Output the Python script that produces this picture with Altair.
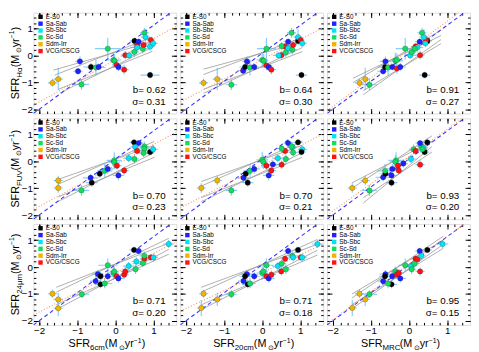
import altair as alt
import pandas as pd

# ---------------- categories / styling ----------------
TYPE_CODES = ["E", "Sa", "Sb", "Sc", "Sd", "V"]
TYPE_LABELS = ["E-S0", "Sa-Sab", "Sb-Sbc", "Sc-Sd", "Sdm-Irr", "VCG/CSCG"]
TYPE_COLORS = ["#000000", "#1f1fff", "#00e5f5", "#12dd5e", "#f2b400", "#ff1212"]

ROW_SUBS = ["Hα", "FUV", "24μm"]
COL_SUBS = ["6cm", "20cm", "MRC"]

B_VALUES = [[0.62, 0.64, 0.91], [0.70, 0.70, 0.93], [0.71, 0.71, 0.95]]
SIGMA_VALUES = [[0.31, 0.30, 0.27], [0.23, 0.21, 0.20], [0.20, 0.18, 0.15]]

MAJOR_TICKS = [-2, -1, 0, 1]
MINOR_TICKS = [-2.0, -1.8, -1.6, -1.4, -1.2, -1.0, -0.8, -0.6, -0.4, -0.2,
               0.0, 0.2, 0.4, 0.6, 0.8, 1.0, 1.2, 1.4]

# ---------------- data: (type, x, y, x_err, y_err) ----------------
HA_6CM = [
    ("Sd", -1.65, -1.01, .12, .15), ("Sd", -1.50, -0.87, .12, .42), ("Sc", -0.89, -1.07, .20, .20),
    ("Sa", -0.98, -0.58, .12, .12), ("Sa", -0.93, -0.21, .12, .18), ("E", -0.64, -0.42, .20, .15),
    ("Sc", -0.51, -0.44, .25, .30), ("Sa", -0.44, -0.42, .12, .12), ("Sc", -0.20, 0.26, .34, .40),
    ("Sc", -0.05, -0.16, .20, .30), ("Sc", -0.02, -0.19, .12, .25), ("V", 0.03, -0.34, .12, .18),
    ("Sa", 0.08, -0.42, .12, .15), ("V", 0.23, -0.52, .12, .18), ("V", 0.26, 0.02, .12, .15),
    ("Sb", 0.36, 0.01, .15, .12), ("Sc", 0.50, 0.14, .12, .18), ("E", 0.50, 0.55, .12, .12),
    ("V", 0.57, 0.40, .12, .12), ("Sb", 0.57, 0.31, .18, .18), ("Sa", 0.61, 0.52, .12, .12),
    ("Sc", 0.72, 0.26, .12, .18), ("V", 0.74, 0.40, .10, .12), ("Sc", 0.76, 0.85, .12, .18),
    ("Sb", 0.79, 0.69, .12, .30), ("Sb", 0.91, 0.34, .12, .15), ("V", 0.93, 0.58, .10, .12),
    ("Sb", 0.99, 0.46, .12, .15), ("E", 0.91, -0.72, .25, .12),
]
HA_20CM = [
    ("Sd", -1.54, -1.01, .12, .15), ("Sd", -1.18, -0.87, .12, .42), ("Sc", -0.81, -1.08, .15, .20),
    ("Sa", -0.50, -0.56, .12, .12), ("Sa", -0.40, -0.21, .12, .18), ("E", -0.45, -0.42, .15, .15),
    ("Sc", -0.32, -0.44, .18, .30), ("Sa", -0.21, -0.42, .12, .12), ("Sc", 0.11, 0.26, .25, .40),
    ("Sc", 0.00, -0.16, .15, .30), ("Sc", 0.04, -0.19, .12, .25), ("V", 0.11, -0.36, .12, .18),
    ("Sa", 0.17, -0.42, .12, .15), ("V", 0.24, -0.52, .12, .18), ("V", 0.50, 0.02, .12, .15),
    ("Sb", 0.43, 0.01, .15, .12), ("Sc", 0.62, 0.13, .12, .18), ("E", 0.94, 0.55, .12, .12),
    ("V", 0.60, 0.34, .12, .12), ("Sb", 0.68, 0.28, .15, .18), ("Sa", 0.68, 0.52, .12, .12),
    ("Sc", 0.79, 0.22, .12, .18), ("V", 0.81, 0.40, .10, .12), ("Sc", 0.77, 0.85, .12, .18),
    ("Sb", 0.94, 0.69, .12, .30), ("Sc", 0.51, 0.36, .12, .15), ("V", 1.01, 0.58, .10, .12),
    ("Sb", 1.05, 0.46, .12, .15), ("E", 1.03, -0.72, .15, .12),
]
HA_MRC = [
    ("Sd", -1.30, -1.01, .12, .15), ("Sd", -1.15, -0.87, .12, .42), ("Sc", -1.04, -1.08, .20, .20),
    ("Sa", -0.68, -0.58, .15, .12), ("Sa", -0.62, -0.21, .15, .18), ("E", -0.63, -0.42, .20, .15),
    ("Sc", -0.55, -0.44, .20, .30), ("Sa", -0.44, -0.42, .15, .12), ("Sc", -0.10, 0.26, .25, .40),
    ("Sc", -0.36, -0.19, .20, .30), ("Sc", -0.32, -0.16, .15, .25), ("V", -0.32, -0.48, .12, .18),
    ("Sa", -0.23, -0.42, .15, .15), ("V", 0.29, 0.02, .12, .15), ("Sb", 0.03, 0.01, .15, .12),
    ("Sc", 0.07, 0.13, .12, .18), ("E", 0.48, 0.55, .12, .12), ("V", 0.17, 0.34, .12, .12),
    ("Sb", 0.22, 0.31, .15, .18), ("Sa", 0.28, 0.52, .12, .12), ("Sc", 0.15, 0.26, .12, .18),
    ("V", 0.45, 0.58, .10, .12), ("Sc", 0.34, 0.85, .12, .18), ("Sb", 0.39, 0.69, .12, .30),
    ("Sb", 0.43, 0.46, .12, .15), ("E", 0.41, -0.72, .15, .12),
]
FUV_6CM = [
    ("Sd", -1.50, -0.71, .12, .18), ("Sd", -1.50, -0.99, .12, .18), ("Sc", -0.89, -1.08, .20, .20),
    ("E", -0.62, -0.79, .15, .15), ("Sa", -0.65, -0.61, .20, .15), ("E", -0.41, -0.46, .15, .15),
    ("Sc", -0.28, -0.35, .20, .25), ("Sa", -0.20, -0.28, .15, .18), ("Sc", -0.03, 0.04, .20, .30),
    ("Sc", -0.03, -0.03, .15, .25), ("V", 0.04, -0.16, .12, .15), ("Sa", 0.08, -0.52, .15, .18),
    ("V", 0.23, -0.34, .12, .15), ("Sb", 0.35, 0.12, .15, .15), ("Sc", 0.50, 0.09, .12, .18),
    ("E", 0.49, 0.71, .12, .12), ("Sa", 0.61, 0.68, .12, .12), ("Sb", 0.52, 0.54, .12, .18),
    ("V", 0.57, 0.39, .12, .12), ("Sc", 0.76, 0.56, .12, .18), ("Sc", 0.76, 0.47, .12, .18),
    ("Sc", 0.74, 0.31, .12, .15), ("E", 0.91, 0.35, .12, .12), ("Sb", 0.99, 0.45, .12, .15),
]
FUV_20CM = [
    ("Sd", -1.60, -0.99, .12, .18), ("Sd", -1.18, -0.71, .12, .18), ("Sc", -0.81, -1.08, .15, .20),
    ("E", -0.38, -0.79, .15, .15), ("Sa", -0.49, -0.61, .15, .15), ("E", -0.43, -0.46, .15, .15),
    ("Sc", -0.32, -0.35, .18, .25), ("Sa", -0.21, -0.28, .15, .18), ("Sc", 0.00, 0.06, .15, .30),
    ("Sc", 0.03, -0.02, .12, .25), ("V", 0.11, -0.16, .12, .15), ("Sa", 0.17, -0.52, .15, .18),
    ("V", 0.24, -0.34, .12, .15), ("Sa", 0.28, -0.11, .12, .15), ("Sb", 0.41, 0.12, .15, .15),
    ("V", 0.51, -0.12, .12, .15), ("Sc", 0.62, 0.09, .12, .18), ("V", 0.60, 0.39, .12, .12),
    ("Sc", 0.51, 0.48, .12, .18), ("Sa", 0.68, 0.68, .12, .12), ("E", 0.94, 0.71, .12, .12),
    ("Sb", 0.79, 0.53, .12, .18), ("Sc", 0.77, 0.56, .12, .18), ("Sc", 0.81, 0.33, .12, .15),
    ("Sb", 1.05, 0.45, .12, .15), ("E", 1.03, 0.35, .12, .12),
]
FUV_MRC = [
    ("Sd", -1.49, -0.99, .12, .18), ("Sd", -1.15, -0.71, .12, .18), ("Sc", -1.04, -1.08, .20, .20),
    ("E", -0.46, -0.79, .15, .15), ("Sa", -0.68, -0.59, .20, .15), ("E", -0.62, -0.46, .15, .15),
    ("Sc", -0.63, -0.35, .20, .25), ("Sa", -0.44, -0.28, .15, .18), ("Sc", -0.34, 0.04, .20, .30),
    ("Sc", -0.36, -0.02, .15, .25), ("V", -0.29, -0.16, .12, .15), ("V", -0.27, -0.34, .12, .15),
    ("Sa", -0.46, -0.52, .15, .18), ("Sa", -0.15, -0.08, .12, .15), ("Sb", 0.05, 0.09, .15, .15),
    ("Sc", 0.12, 0.45, .12, .18), ("V", 0.17, 0.39, .12, .12), ("Sc", 0.32, 0.56, .12, .18),
    ("Sa", 0.29, 0.68, .12, .12), ("E", 0.48, 0.71, .12, .12), ("E", 0.41, 0.35, .12, .12),
    ("V", 0.29, -0.12, .12, .15), ("Sb", 0.38, 0.50, .12, .15), ("Sc", 0.35, 0.45, .12, .15),
]
IR_6CM = [
    ("Sd", -1.65, -0.99, .12, .15), ("Sd", -1.50, -1.20, .12, .25), ("Sd", -1.50, -1.53, .12, .30),
    ("Sc", -0.88, -1.01, .20, .15), ("Sa", -0.52, -0.52, .15, .15), ("Sa", -0.46, -0.26, .15, .15),
    ("E", -0.39, -0.34, .15, .15), ("E", -0.39, -0.64, .15, .15), ("Sa", -0.20, -0.34, .15, .15),
    ("Sc", -0.28, -0.61, .20, .18), ("Sc", -0.20, 0.07, .25, .25), ("Sc", -0.05, -0.22, .15, .25),
    ("Sc", -0.03, -0.16, .12, .18), ("V", 0.03, -0.34, .12, .15), ("Sa", 0.08, -0.42, .15, .15),
    ("V", 0.23, -0.28, .12, .15), ("V", 0.26, -0.16, .12, .15), ("Sb", 0.35, 0.04, .15, .15),
    ("Sc", 0.53, -0.08, .12, .18), ("E", 0.49, 0.64, .12, .12), ("Sa", 0.61, 0.60, .12, .12),
    ("Sb", 0.55, 0.21, .12, .15), ("V", 0.76, 0.31, .12, .12), ("Sc", 0.76, 0.42, .12, .15),
    ("V", 0.93, 0.36, .12, .12), ("Sb", 1.00, 0.36, .12, .15), ("Sb", 1.40, 0.86, .15, .15),
    ("Sc", 0.72, 0.15, .12, .15),
]
IR_20CM = [
    ("Sd", -1.60, -1.52, .12, .30), ("Sd", -1.54, -0.99, .12, .15), ("Sd", -1.18, -1.20, .12, .25),
    ("Sc", -0.81, -1.01, .15, .15), ("Sa", -0.49, -0.52, .15, .15), ("Sa", -0.40, -0.26, .15, .15),
    ("E", -0.38, -0.64, .15, .15), ("E", -0.45, -0.34, .15, .15), ("Sc", -0.32, -0.61, .15, .18),
    ("Sa", -0.21, -0.34, .15, .15), ("Sc", 0.00, -0.22, .15, .25), ("Sc", 0.03, -0.16, .12, .18),
    ("Sc", 0.11, 0.07, .18, .25), ("V", 0.11, -0.34, .12, .15), ("Sa", 0.17, -0.42, .15, .15),
    ("V", 0.24, -0.28, .12, .15), ("V", 0.50, -0.16, .12, .15), ("Sb", 0.41, 0.04, .15, .15),
    ("Sc", 0.62, -0.08, .12, .18), ("V", 0.60, 0.31, .12, .12), ("Sc", 0.51, 0.13, .12, .15),
    ("Sa", 0.68, 0.60, .12, .12), ("E", 0.94, 0.64, .12, .12), ("Sc", 0.79, 0.42, .12, .15),
    ("Sb", 0.81, 0.36, .12, .15), ("V", 1.01, 0.36, .12, .12), ("Sb", 1.05, 0.36, .12, .15),
    ("Sb", 1.45, 0.86, .15, .15),
]
IR_MRC = [
    ("Sd", -1.49, -1.52, .12, .30), ("Sd", -1.30, -0.99, .12, .15), ("Sd", -1.15, -1.20, .12, .25),
    ("Sc", -1.04, -1.01, .20, .15), ("Sa", -0.68, -0.52, .15, .15), ("Sa", -0.62, -0.26, .15, .15),
    ("E", -0.63, -0.34, .15, .15), ("E", -0.46, -0.64, .15, .15), ("Sc", -0.36, -0.16, .15, .18),
    ("Sc", -0.32, -0.22, .15, .18), ("Sc", -0.55, -0.61, .15, .18), ("Sa", -0.44, -0.34, .15, .15),
    ("V", -0.32, -0.28, .12, .15), ("V", -0.27, -0.22, .12, .15), ("Sa", -0.23, -0.42, .15, .15),
    ("Sc", -0.10, 0.07, .18, .25), ("Sb", 0.05, 0.04, .15, .15), ("Sc", 0.07, -0.08, .12, .18),
    ("V", 0.17, 0.31, .12, .12), ("V", 0.29, -0.16, .12, .15), ("Sa", 0.28, 0.60, .12, .12),
    ("E", 0.48, 0.64, .12, .12), ("Sc", 0.14, 0.13, .12, .15), ("V", 0.22, 0.29, .12, .12),
    ("Sb", 0.32, 0.42, .12, .15), ("Sb", 0.88, 0.86, .15, .15),
]

# grey envelope lines (x1, y1, x2, y2) per panel
GREY_HA = [
    [(-1.63, -0.54, 0.97, 0.52), (-1.59, -0.72, 0.97, 0.69), (-1.50, -1.25, 0.97, 0.16), (-1.46, -1.39, 0.97, 0.31)],
    [(-1.54, -0.50, 1.05, 0.50), (-1.54, -0.70, 1.05, 0.68), (-1.54, -1.25, 1.05, 0.15), (-1.54, -1.40, 1.05, 0.30)],
    [(-1.47, -0.84, 0.84, 0.75), (-1.47, -1.00, 0.84, 0.95), (-1.20, -1.30, 0.84, 0.45), (-1.20, -1.45, 0.84, 0.60)],
]
GREY_FUV = [
    [(-1.50, -0.67, 1.02, 0.59), (-1.50, -0.85, 1.02, 0.74), (-1.50, -1.32, 1.02, 0.15), (-1.50, -1.49, 1.02, 0.33)],
    [(-1.60, -0.75, 1.05, 0.60), (-1.60, -0.92, 1.05, 0.75), (-1.60, -1.35, 1.05, 0.15), (-1.60, -1.50, 1.05, 0.32)],
    [(-1.50, -0.80, 0.60, 0.75), (-1.50, -1.00, 0.60, 0.95), (-1.20, -1.35, 0.60, 0.35), (-1.20, -1.55, 0.60, 0.55)],
]
GREY_IR = [
    [(-1.55, -0.75, 1.40, 0.89), (-1.55, -0.93, 1.40, 1.07), (-1.55, -1.40, 1.40, 0.48), (-1.55, -1.58, 1.40, 0.66)],
    [(-1.60, -0.75, 1.45, 0.85), (-1.60, -0.93, 1.45, 1.03), (-1.60, -1.40, 1.45, 0.45), (-1.60, -1.58, 1.45, 0.63)],
    [(-1.50, -1.00, 0.90, 1.00), (-1.50, -1.15, 0.90, 1.15), (-1.50, -1.40, 0.90, 0.70), (-1.50, -1.55, 0.90, 0.85)],
]
# dotted fit line and dashed one-to-one line (x1, y1, x2, y2) per panel
ORANGE_LINES = [
    [(-2.15, -1.84, 1.6, 1.10), (-2.15, -1.72, 1.6, 1.05), (-2.15, -2.05, 1.3, 1.60)],
    [(-2.15, -1.79, 1.6, 1.09), (-2.15, -1.73, 1.6, 1.03), (-2.15, -2.00, 1.4, 1.60)],
    [(-2.15, -1.78, 1.6, 0.95), (-2.15, -1.64, 1.6, 0.86), (-2.15, -2.10, 1.45, 1.60)],
]
BLUE_LINE = (-2.15, -2.15, 1.45, 1.6)

PANELS = [[HA_6CM, HA_20CM, HA_MRC], [FUV_6CM, FUV_20CM, FUV_MRC], [IR_6CM, IR_20CM, IR_MRC]]
GREYS = [GREY_HA, GREY_FUV, GREY_IR]

# ---------------- layout ----------------
W, H = 146, 103
DOMAIN = [-2.15, 1.6]
FONT = "Liberation Sans"
ERR_COLOR = "#87cefa"
ONE = pd.DataFrame({"k": [0]})

CHAR_W = {"S": .667, "F": .611, "R": .722, "H": .722, "α": .60, "U": .722, "V": .667,
          "2": .556, "4": .556, "μ": .58, "m": .833, "6": .556, "c": .5, "M": .74,
          "C": .722, " ": .278, "(": .333, ")": .333, "y": .5, "r": .333, "−": .584,
          "1": .556, "⊙": .80, "0": .556}


def title_pieces(sub):
    # (text, fontsize, perpendicular shift: + = down/sub, - = up/sup)
    parts = [("SFR", 11, 0), (sub, 8, 3), (" (M", 11, 0), ("⊙", 7, 2.5),
             ("yr", 11, 0), ("−1", 7, -4.5), (")", 11, 0)]
    out, along = [], 0.0
    for txt, fs, perp in parts:
        out.append((txt, fs, perp, along))
        along += sum(CHAR_W.get(ch, .56) for ch in txt) * fs
    return out, along


def ax(orient, values, size, labels=False):
    kw = dict(orient=orient, values=values, tickSize=size, offset=-size, domain=False,
              grid=False, labels=labels, title=None, ticks=True, tickColor="black",
              tickWidth=1)
    if labels:
        kw.update(labelFontSize=10, labelPadding=1, labelColor="black", labelFont=FONT,
                  format=".0f", labelFlush=False, labelOverlap=False)
    return alt.Axis(**kw)


def seg_df(rows):
    return pd.DataFrame(rows, columns=["x1", "y1", "x2", "y2"])


def panel(r, c):
    code2label = dict(zip(TYPE_CODES, TYPE_LABELS))
    pts = pd.DataFrame(PANELS[r][c], columns=["t", "x", "y", "ex", "ey"])
    pts["type"] = pts["t"].map(code2label)
    pts["x1"] = pts["x"] - pts["ex"]
    pts["x2"] = pts["x"] + pts["ex"]
    pts["y1"] = pts["y"] - pts["ey"]
    pts["y2"] = pts["y"] + pts["ey"]

    xs = alt.Scale(domain=DOMAIN, nice=False, zero=False)
    ys = alt.Scale(domain=DOMAIN, nice=False, zero=False)
    base = alt.Chart(pts)

    errx = base.mark_rule(color=ERR_COLOR, strokeWidth=1.2, clip=True).encode(
        x=alt.X("x1:Q", scale=xs, axis=ax("bottom", MAJOR_TICKS, 5, r == 2)),
        x2="x2:Q",
        y=alt.Y("y:Q", scale=ys, axis=ax("left", MAJOR_TICKS, 5, c == 0)),
    )
    erry = base.mark_rule(color=ERR_COLOR, strokeWidth=1.2, clip=True).encode(
        x=alt.X("x:Q", scale=xs, axis=ax("top", MAJOR_TICKS, 5)),
        y=alt.Y("y1:Q", scale=ys, axis=ax("right", MAJOR_TICKS, 5)),
        y2="y2:Q",
    )
    grey = alt.Chart(seg_df(GREYS[r][c])).mark_rule(color="#9a9a9a", strokeWidth=0.8, clip=True).encode(
        x=alt.X("x1:Q", scale=xs, axis=ax("bottom", MINOR_TICKS, 2.5)), x2="x2:Q",
        y=alt.Y("y1:Q", scale=ys, axis=ax("left", MINOR_TICKS, 2.5)), y2="y2:Q",
    )
    blue = alt.Chart(seg_df([BLUE_LINE])).mark_rule(
        color="#3535ff", strokeWidth=1.1, strokeDash=[4, 3], clip=True).encode(
        x=alt.X("x1:Q", scale=xs, axis=ax("top", MINOR_TICKS, 2.5)), x2="x2:Q",
        y=alt.Y("y1:Q", scale=ys, axis=ax("right", MINOR_TICKS, 2.5)), y2="y2:Q",
    )
    orange = alt.Chart(seg_df([ORANGE_LINES[r][c]])).mark_rule(
        color="#ff9060", strokeWidth=1.1, strokeDash=[1, 2], clip=True).encode(
        x=alt.X("x1:Q", scale=xs, axis=None), x2="x2:Q",
        y=alt.Y("y1:Q", scale=ys, axis=None), y2="y2:Q",
    )
    points = base.mark_point(shape="circle", filled=True, size=30, opacity=1,
                             stroke="#222222", strokeWidth=0.4, strokeOpacity=0.6).encode(
        x=alt.X("x:Q", scale=xs, axis=None),
        y=alt.Y("y:Q", scale=ys, axis=None),
        color=alt.Color("type:N",
                        scale=alt.Scale(domain=TYPE_LABELS, range=TYPE_COLORS),
                        legend=alt.Legend(orient="none", legendX=4, legendY=1, title=None,
                                          symbolType="square", symbolSize=20,
                                          symbolStrokeWidth=0, labelFontSize=6.5,
                                          labelFont=FONT, labelColor="black",
                                          rowPadding=0, labelOffset=2, padding=0)),
    )
    b_txt = alt.Chart(ONE).mark_text(align="right", baseline="middle", fontSize=10,
                                     font=FONT, color="black").encode(
        x=alt.value(W - 11), y=alt.value(H - 24),
        text=alt.value(f"b= {B_VALUES[r][c]:.2f}"))
    s_txt = alt.Chart(ONE).mark_text(align="right", baseline="middle", fontSize=10,
                                     font=FONT, color="black").encode(
        x=alt.value(W - 11), y=alt.value(H - 12),
        text=alt.value(f"σ= {SIGMA_VALUES[r][c]:.2f}"))

    layers = [errx, erry, grey, blue, orange, points, b_txt, s_txt]

    if c == 0:
        pieces, total = title_pieces(ROW_SUBS[r])
        tdf = pd.DataFrame([dict(text=t, fs=fs, px=-15 + perp, py=H / 2 + total / 2 - along)
                            for t, fs, perp, along in pieces])
        layers.append(alt.Chart(tdf).mark_text(angle=270, align="left", baseline="alphabetic",
                                               font=FONT, color="black").encode(
            x=alt.X("px:Q", scale=None, axis=None),
            y=alt.Y("py:Q", scale=None, axis=None),
            size=alt.Size("fs:Q", scale=None, legend=None),
            text="text:N"))
    if r == 2:
        pieces, total = title_pieces(COL_SUBS[c])
        tdf = pd.DataFrame([dict(text=t, fs=fs, px=W / 2 + 2 - total / 2 + along, py=H + 23 + perp)
                            for t, fs, perp, along in pieces])
        layers.append(alt.Chart(tdf).mark_text(align="left", baseline="alphabetic",
                                               font=FONT, color="black").encode(
            x=alt.X("px:Q", scale=None, axis=None),
            y=alt.Y("py:Q", scale=None, axis=None),
            size=alt.Size("fs:Q", scale=None, legend=None),
            text="text:N"))

    return alt.layer(*layers).resolve_axis(x="independent", y="independent").properties(
        width=W, height=H)


panels = [panel(r, c) for r in range(3) for c in range(3)]

chart = alt.concat(*panels, columns=3, spacing=2, align="each").resolve_legend(
    color="independent").properties(padding=0).configure_view(
    stroke="black", strokeWidth=1).configure(font=FONT)

chart.save("out.html", embed_options={"renderer": "svg", "actions": False})
